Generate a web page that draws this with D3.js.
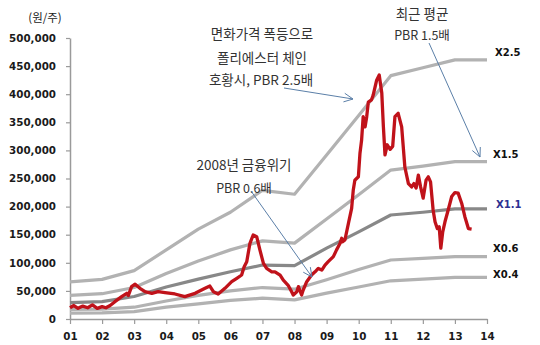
<!DOCTYPE html>
<html>
<head>
<meta charset="utf-8">
<script src="https://cdn.jsdelivr.net/npm/d3@7"></script>
<style>
  body { margin: 0; background: #fff; }
  svg { display: block; }
</style>
</head>
<body>
<script>
// band lines, one value per year (PBR multiples)
const years = [2001, 2002, 2003, 2004, 2005, 2006, 2007, 2008, 2009, 2010, 2011, 2012, 2013, 2014];
const pbr25 = [66000, 70500, 86000, 123000, 160000, 190000, 229000, 222000, 292000, 362000, 433000, 447000, 461000, 461000];
const pbr15 = [42000, 45000, 56000, 81000, 103000, 123000, 139000, 135000, 178000, 221000, 265000, 272000, 280000, 280000];
const pbr11 = [29000, 31000, 40000, 57000, 71000, 84000, 96000, 95000, 126000, 155000, 185000, 190000, 196000, 196000];
const pbr06 = [17000, 17500, 21000, 32000, 42000, 50000, 56000, 53000, 70000, 88000, 105000, 108000, 111000, 111000];
const pbr04 = [10500, 11000, 13000, 21000, 27000, 33000, 37000, 34000, 46000, 57000, 68000, 71000, 74000, 74000];
const bandNames = ["X2.5", "X1.5", "X1.1", "X0.6", "X0.4"];

// stock price (decimal year, won)
const priceT = [2001.00, 2001.12, 2001.25, 2001.40, 2001.55, 2001.70, 2001.85, 2002.00, 2002.12, 2002.25,
  2002.40, 2002.61, 2002.77, 2002.82, 2002.92, 2003.03, 2003.18, 2003.34, 2003.55, 2003.75,
  2003.96, 2004.27, 2004.58, 2004.90, 2005.21, 2005.36, 2005.47, 2005.62, 2005.83, 2006.04,
  2006.20, 2006.35, 2006.43, 2006.51, 2006.61, 2006.71, 2006.82, 2006.92, 2007.03, 2007.13,
  2007.29, 2007.39, 2007.55, 2007.65, 2007.80, 2007.91, 2007.96, 2008.07, 2008.12, 2008.22,
  2008.27, 2008.38, 2008.53, 2008.64, 2008.74, 2008.85, 2008.95, 2009.05, 2009.21, 2009.31,
  2009.42, 2009.47, 2009.50, 2009.57, 2009.68, 2009.78, 2009.83, 2009.88, 2009.99, 2010.04,
  2010.09, 2010.14, 2010.20, 2010.25, 2010.30, 2010.40, 2010.45, 2010.56, 2010.64, 2010.72,
  2010.77, 2010.82, 2010.89, 2010.98, 2011.06, 2011.13, 2011.23, 2011.34, 2011.44, 2011.55,
  2011.65, 2011.72, 2011.79, 2011.86, 2011.93, 2012.01, 2012.10, 2012.17, 2012.24, 2012.32,
  2012.38, 2012.45, 2012.51, 2012.56, 2012.62, 2012.69, 2012.79, 2012.90, 2013.00, 2013.10,
  2013.21, 2013.31, 2013.42, 2013.52];
const priceV = [20000, 24000, 19000, 23000, 20000, 25000, 19000, 22000, 20000, 24000,
  30800, 39700, 45700, 42000, 57500, 62000, 54600, 48600, 45700, 48600,
  47000, 44500, 39700, 45700, 54600, 58700, 48600, 44500, 54600, 66400,
  72400, 78300, 93000, 102000, 134700, 149500, 146400, 122800, 99000, 90000,
  84000, 84000, 78000, 69000, 60000, 48600, 42700, 48600, 57500, 42700,
  51600, 66400, 78300, 84000, 90000, 87000, 96000, 102000, 111000, 123000,
  134700, 143600, 137500, 140600, 170000, 197000, 229000, 247000, 253000, 295000,
  318000, 360000, 342000, 360000, 386000, 390000, 398000, 425000, 434000, 402000,
  342000, 292000, 310000, 302000, 307000, 360000, 366000, 342000, 270000, 241000,
  235000, 241000, 233000, 256000, 235000, 215000, 247000, 253000, 244000, 194000,
  173000, 161000, 164000, 126000, 155000, 173000, 194000, 218000, 225000, 224000,
  206000, 182000, 161000, 160000];

const yTicks = d3.range(0, 500001, 50000);

const width = 540, height = 345;
const x = d3.scaleLinear().domain([2001, 2014]).range([70, 487]);
const y = d3.scaleLinear().domain([0, 500000]).range([319, 38]);

const numFont = "DejaVu Sans, Verdana, sans-serif";
const krFont = "'Noto Sans CJK KR', 'Noto Sans', sans-serif";

const svg = d3.select("body").append("svg")
  .attr("width", width)
  .attr("height", height);

// unit label
svg.append("text")
  .attr("x", 45).attr("y", 17)
  .attr("text-anchor", "middle")
  .attr("dominant-baseline", "central")
  .style("font-family", krFont)
  .style("font-size", "11.5px")
  .style("fill", "#222")
  .text("(원/주)");

// axes
const yAxis = d3.axisLeft(y)
  .tickValues(yTicks)
  .tickFormat(d3.format(","))
  .tickSize(4)
  .tickSizeOuter(0)
  .tickPadding(10);
const gy = svg.append("g").attr("transform", "translate(70,0)").call(yAxis);

const xAxis = d3.axisBottom(x)
  .tickValues(years)
  .tickFormat(d => String(d % 100).padStart(2, "0"))
  .tickSize(5)
  .tickSizeOuter(0)
  .tickPadding(9);
const gx = svg.append("g").attr("transform", "translate(0,319)").call(xAxis);

[gy, gx].forEach(g => {
  g.select(".domain").style("stroke", "#9a9a9a").style("stroke-width", 1.5);
  g.selectAll(".tick line").style("stroke", "#9a9a9a").style("stroke-width", 1.2);
  g.selectAll("text")
    .style("font-family", numFont)
    .style("font-weight", "bold")
    .style("font-size", "10.3px")
    .style("fill", "#1a1a1a");
});

// band lines
const bands = [
  { vals: pbr25, color: "#b2b2b2" },
  { vals: pbr15, color: "#b2b2b2" },
  { vals: pbr11, color: "#888888" },
  { vals: pbr06, color: "#b2b2b2" },
  { vals: pbr04, color: "#b2b2b2" }
];
const line = d3.line().x(d => x(d[0])).y(d => y(d[1]));

bands.forEach(b => {
  svg.append("path")
    .datum(years.map((yr, i) => [yr, b.vals[i]]))
    .attr("d", line)
    .attr("fill", "none")
    .attr("stroke", b.color)
    .attr("stroke-width", 3.2)
    .attr("stroke-linejoin", "round");
});

// price line
svg.append("path")
  .datum(priceT.map((t, i) => [t, priceV[i]]))
  .attr("d", line)
  .attr("fill", "none")
  .attr("stroke", "#c0121a")
  .attr("stroke-width", 3.3)
  .attr("stroke-linejoin", "round");

// band labels
const labelPos = [
  { dx: 495, dy: 52, color: "#111" },
  { dx: 493, dy: 154, color: "#111" },
  { dx: 496, dy: 204, color: "#2e3192" },
  { dx: 493, dy: 248, color: "#111" },
  { dx: 493, dy: 274, color: "#111" }
];
bandNames.forEach((name, i) => {
  svg.append("text")
    .attr("x", labelPos[i].dx)
    .attr("y", labelPos[i].dy)
    .attr("dominant-baseline", "central")
    .style("font-family", numFont)
    .style("font-weight", "bold")
    .style("font-size", "10px")
    .style("fill", labelPos[i].color)
    .text(name);
});

// annotations
const notes = [
  { text: "면화가격 폭등으로", x: 262, y: 33, size: 13.5 },
  { text: "폴리에스터 체인", x: 262, y: 57, size: 13.5 },
  { text: "호황시, PBR 2.5배", x: 261, y: 79, size: 13.5 },
  { text: "최근 평균", x: 422, y: 13, size: 13.5 },
  { text: "PBR 1.5배", x: 422, y: 34, size: 12.5 },
  { text: "2008년 금융위기", x: 244, y: 164, size: 13.5 },
  { text: "PBR 0.6배", x: 244, y: 187, size: 12.5 }
];
notes.forEach(n => {
  svg.append("text")
    .attr("x", n.x).attr("y", n.y)
    .attr("text-anchor", "middle")
    .attr("dominant-baseline", "central")
    .style("font-family", krFont)
    .style("font-size", n.size + "px")
    .style("fill", "#333")
    .text(n.text);
});

// arrows
const arrows = [
  [[284, 88], [353, 99]],
  [[429, 43], [480, 157]],
  [[251, 191], [312, 277]]
];
arrows.forEach(([a, b]) => {
  svg.append("line")
    .attr("x1", a[0]).attr("y1", a[1])
    .attr("x2", b[0]).attr("y2", b[1])
    .style("stroke", "#5b7fa8")
    .style("stroke-width", 1);
  const ang = Math.atan2(b[1] - a[1], b[0] - a[0]);
  const len = 10, spread = 0.45;
  const p1 = [b[0] - len * Math.cos(ang - spread), b[1] - len * Math.sin(ang - spread)];
  const p2 = [b[0] - len * Math.cos(ang + spread), b[1] - len * Math.sin(ang + spread)];
  svg.append("path")
    .attr("d", `M${p1[0]},${p1[1]}L${b[0]},${b[1]}L${p2[0]},${p2[1]}`)
    .attr("fill", "none")
    .style("stroke", "#5b7fa8")
    .style("stroke-width", 1);
});
</script>
</body>
</html>
